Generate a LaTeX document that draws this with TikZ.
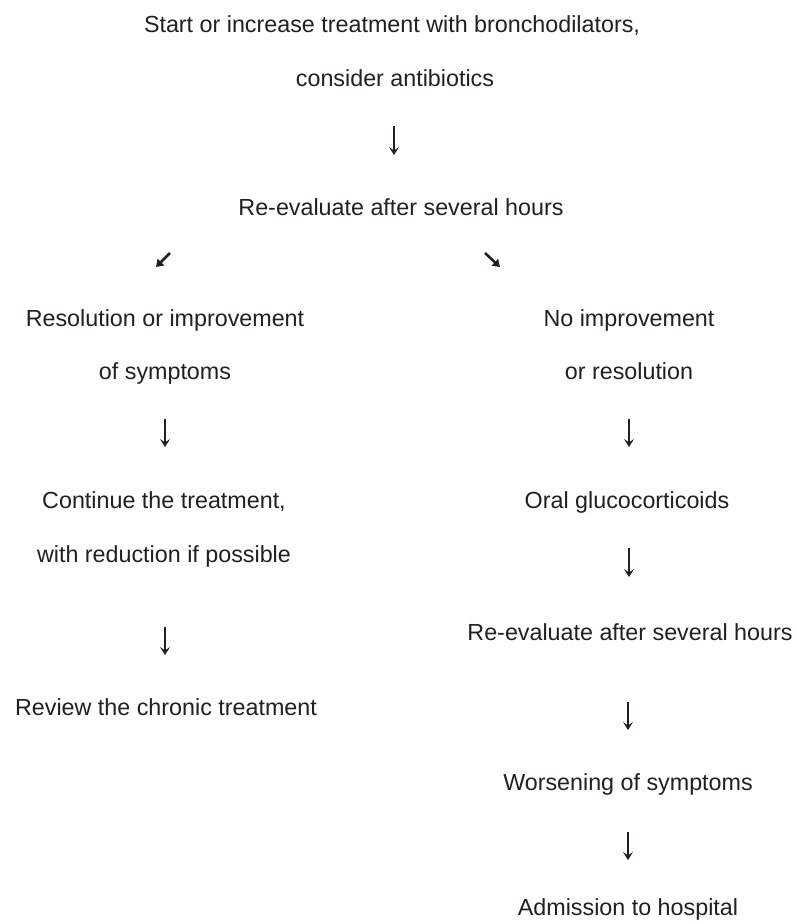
\documentclass[tikz,border=0pt]{standalone}
\usepackage{fontspec}
\setmainfont{Liberation Sans}
\usetikzlibrary{arrows.meta}
\definecolor{ink}{HTML}{231F20}
\begin{document}
\begin{tikzpicture}[x=1pt,y=-1pt,
  txt/.style={anchor=base, inner sep=0pt, text=ink, font=\fontsize{23.3}{28}\selectfont},
  darr/.style={draw=ink, line width=1.1pt, -{Stealth[length=8pt,width=10pt,inset=3.5pt]}},
  diag/.style={draw=ink, line width=2.6pt, -{Triangle[length=7pt,width=9pt]}}]
\useasboundingbox (0,0) rectangle (796,924);
% top
\node[txt] (t1) at (392,32) {Start or increase treatment with bronchodilators,};
\node[txt] (t2) at (395,86) {consider antibiotics};
\node[txt] (t3) at (401,215) {Re-evaluate after several hours};
% left column
\node[txt] (l1) at (165,326) {Resolution or improvement};
\node[txt] (l2) at (165,379) {of symptoms};
\node[txt] (l3) at (164,508) {Continue the treatment,};
\node[txt] (l4) at (164,562) {with reduction if possible};
\node[txt] (l5) at (166,715) {Review the chronic treatment};
% right column
\node[txt] (r1) at (629,326) {No improvement};
\node[txt] (r2) at (629,379) {or resolution};
\node[txt] (r3) at (627,508) {Oral glucocorticoids};
\node[txt] (r4) at (630,640) {Re-evaluate after several hours};
\node[txt] (r5) at (628,790) {Worsening of symptoms};
\node[txt] (r6) at (628,915) {Admission to hospital};
% arrow end points
\coordinate (a1s) at (394,126); \coordinate (a1e) at (394,155);
\coordinate (dls) at (170,253); \coordinate (dle) at (156,267);
\coordinate (drs) at (485,253); \coordinate (dre) at (500,267);
\coordinate (l2s) at (165,419); \coordinate (l2e) at (165,447);
\coordinate (l4s) at (165,627); \coordinate (l4e) at (165,655);
\coordinate (r2s) at (629,419); \coordinate (r2e) at (629,447);
\coordinate (r3s) at (629,548); \coordinate (r3e) at (629,577);
\coordinate (r4s) at (628,702); \coordinate (r4e) at (628,730);
\coordinate (r5s) at (628,832); \coordinate (r5e) at (628,860);
% arrows
\draw[darr] (a1s) -- (a1e);
\draw[diag] (dls) -- (dle);
\draw[diag] (drs) -- (dre);
\draw[darr] (l2s) -- (l2e);
\draw[darr] (l4s) -- (l4e);
\draw[darr] (r2s) -- (r2e);
\draw[darr] (r3s) -- (r3e);
\draw[darr] (r4s) -- (r4e);
\draw[darr] (r5s) -- (r5e);
\end{tikzpicture}
\end{document}
